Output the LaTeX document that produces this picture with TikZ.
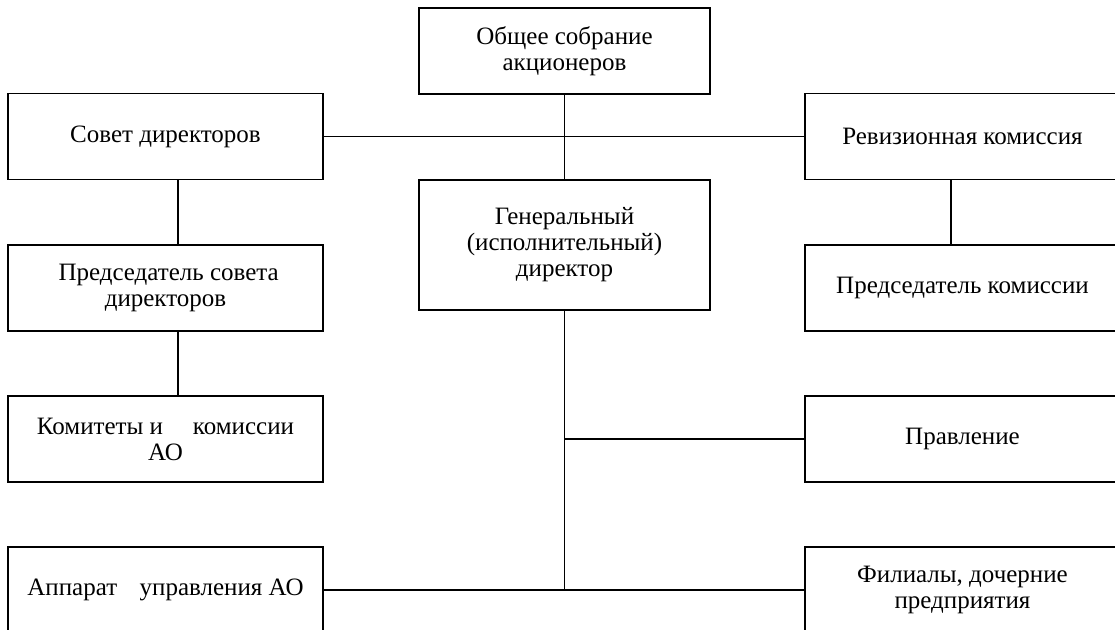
\documentclass[tikz,border=0pt]{standalone}
\usepackage{fontspec}
\setmainfont{Liberation Serif}
\usetikzlibrary{positioning}

\begin{document}
\begin{tikzpicture}[x=0.5pt,y=-0.5pt,font=\fontsize{12.5}{13}\selectfont,
  box/.style={draw,line width=0.9pt,align=center,inner sep=0pt,minimum width=157.5pt,minimum height=43pt},
  midbox/.style={box,minimum width=145.5pt},
  link/.style={line width=0.8pt}]
  \useasboundingbox (0,0) rectangle (1115,630);
  % centre column
  \node[midbox] (gsa) at (564.5,51) {Общее собрание\\акционеров};
  \node[midbox,minimum height=65pt] (gd) at (564.5,245) {Генеральный\\(исполнительный)\\директор};
  % left column
  \node[box] (sd) at (165.5,136.5) {Совет директоров};
  \node[box] (psd) at (165.5,288) {\ Председатель совета\\директоров};
  \node[box] (kk) at (165.5,439) {Комитеты и\hspace{1.2em}комиссии\\АО};
  \node[box] (au) at (165.5,590) {Аппарат\hspace{0.9em}управления АО};
  % right column
  \node[box] (rk) at (962.5,136.5) {Ревизионная комиссия};
  \node[box] (pk) at (962.5,288) {Председатель комиссии};
  \node[box] (pr) at (962.5,439) {Правление};
  \node[box] (fil) at (962.5,590) {Филиалы, дочерние\\предприятия};
  % links
  \draw[link] (gsa) -- (gd);
  \draw[link] (sd) -- (rk);
  \draw[link] ([xshift=6.25pt]sd.south) -- ([xshift=6.25pt]psd.north);
  \draw[link] ([xshift=6.25pt]psd.south) -- ([xshift=6.25pt]kk.north);
  \draw[link] ([xshift=-5.75pt]rk.south) -- ([xshift=-5.75pt]pk.north);
  \coordinate (jn) at (gd.south |- au.east);
  \draw[link] (gd.south) -- (jn);
  \draw[link] (gd.south |- pr.west) -- (pr.west);
  \draw[link] (au) -- (fil);
\end{tikzpicture}
\end{document}
